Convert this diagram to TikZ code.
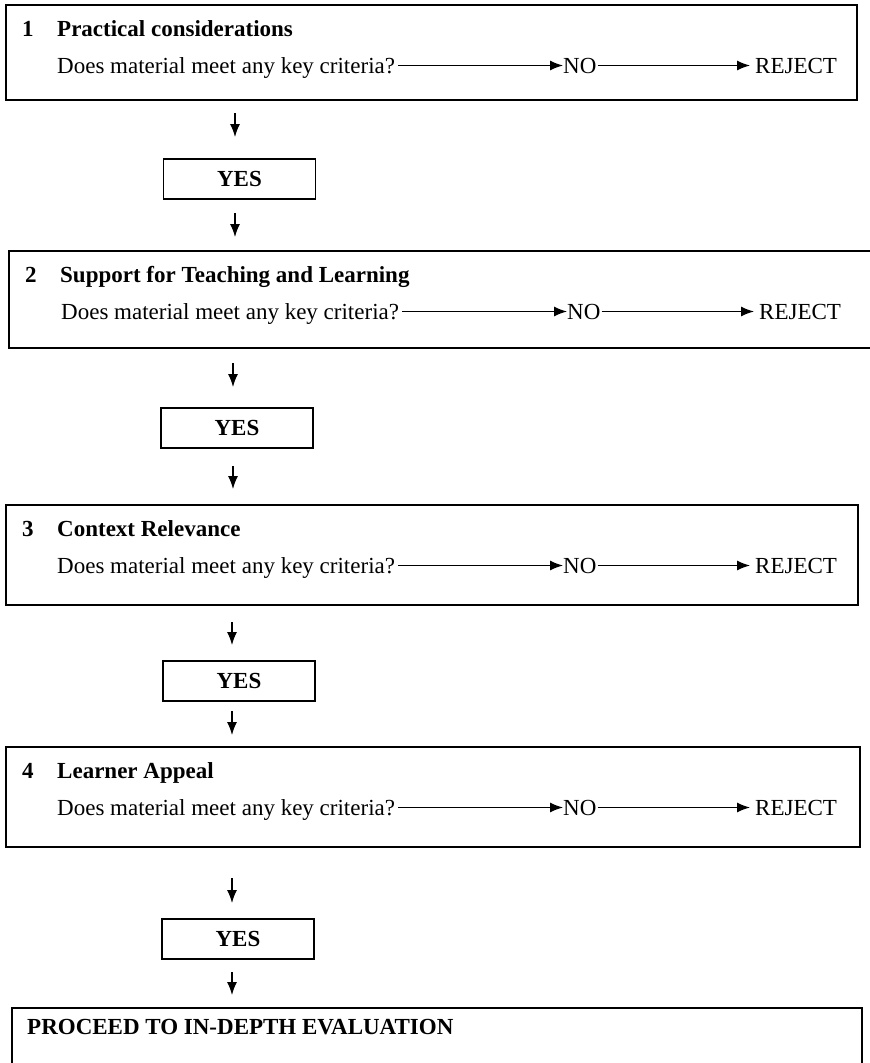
\documentclass[tikz,border=0pt]{standalone}
\usepackage{fontspec}
\setmainfont{Liberation Serif}
\usetikzlibrary{arrows.meta}
\tikzset{
    boxline/.style={line width=1.8pt},
    txt/.style={anchor=base west, inner sep=0pt, text height=15pt, text depth=0pt, font=\fontsize{23}{27}\selectfont},
    head/.style={txt, font=\fontsize{23}{27}\selectfont\bfseries},
    yesbox/.style={draw, line width=1.6pt, inner sep=0pt, minimum width=152pt, minimum height=40pt, font=\fontsize{23}{27}\selectfont\bfseries},
    flow/.style={->, line width=1.2pt}
}
\begin{document}
\begin{tikzpicture}[x=1pt, y=-1pt, >={Latex[length=13pt, width=10pt]}]
    \useasboundingbox (0,0) rectangle (870,1063);
    \draw[boxline] (6,5) rectangle (857,100);
    \node[head] (n1) at (22,36) {1}; \node[head] (t1) at (57,36) {Practical considerations};
    \node[txt] (q1) at (57,73) {Does material meet any key criteria?};
    \node[txt] (no1) at (563,73) {NO}; \node[txt] (rej1) at (755,73) {REJECT};
    \draw[flow, shorten <=3pt] (q1.east) -- (no1.west);
    \draw[flow, shorten <=1pt, shorten >=5pt] (no1.east) -- (rej1.west);
    \coordinate (d1) at (235,113); \coordinate (d1e) at (235,137);
    \draw[flow] (d1) -- (d1e);
    \node[yesbox] (yes1) at (239.5,179) {YES};
    \coordinate (d2) at (235,213); \coordinate (d2e) at (235,237);
    \draw[flow] (d2) -- (d2e);

    \draw[boxline] (870,251) -- (9,251) -- (9,348) -- (870,348);
    \node[head] (n2) at (25,282) {2}; \node[head] (t2) at (60,282) {Support for Teaching and Learning};
    \node[txt] (q2) at (61,319) {Does material meet any key criteria?};
    \node[txt] (no2) at (567,319) {NO}; \node[txt] (rej2) at (759,319) {REJECT};
    \draw[flow, shorten <=3pt] (q2.east) -- (no2.west);
    \draw[flow, shorten <=1pt, shorten >=5pt] (no2.east) -- (rej2.west);
    \coordinate (d3) at (233,363); \coordinate (d3e) at (233,387);
    \draw[flow] (d3) -- (d3e);
    \node[yesbox] (yes2) at (237,428) {YES};
    \coordinate (d4) at (233,466); \coordinate (d4e) at (233,489);
    \draw[flow] (d4) -- (d4e);

    \draw[boxline] (6,505) rectangle (858,605);
    \node[head] (n3) at (22,536) {3}; \node[head] (t3) at (57,536) {Context Relevance};
    \node[txt] (q3) at (57,573) {Does material meet any key criteria?};
    \node[txt] (no3) at (563,573) {NO}; \node[txt] (rej3) at (755,573) {REJECT};
    \draw[flow, shorten <=3pt] (q3.east) -- (no3.west);
    \draw[flow, shorten <=1pt, shorten >=5pt] (no3.east) -- (rej3.west);
    \coordinate (d5) at (232,622); \coordinate (d5e) at (232,645);
    \draw[flow] (d5) -- (d5e);
    \node[yesbox] (yes3) at (239,681) {YES};
    \coordinate (d6) at (232,711); \coordinate (d6e) at (232,735);
    \draw[flow] (d6) -- (d6e);

    \draw[boxline] (6,747) rectangle (860,847);
    \node[head] (n4) at (22,778) {4}; \node[head] (t4) at (57,778) {Learner Appeal};
    \node[txt] (q4) at (57,815) {Does material meet any key criteria?};
    \node[txt] (no4) at (563,815) {NO}; \node[txt] (rej4) at (755,815) {REJECT};
    \draw[flow, shorten <=3pt] (q4.east) -- (no4.west);
    \draw[flow, shorten <=1pt, shorten >=5pt] (no4.east) -- (rej4.west);
    \coordinate (d7) at (232,878); \coordinate (d7e) at (232,903);
    \draw[flow] (d7) -- (d7e);
    \node[yesbox] (yes4) at (238,939) {YES};
    \coordinate (d8) at (232,972); \coordinate (d8e) at (232,995);
    \draw[flow] (d8) -- (d8e);

    \draw[boxline] (12,1063) -- (12,1008) -- (862,1008) -- (862,1063);
    \node[head] (go) at (27,1034) {PROCEED TO IN-DEPTH EVALUATION};
\end{tikzpicture}
\end{document}
